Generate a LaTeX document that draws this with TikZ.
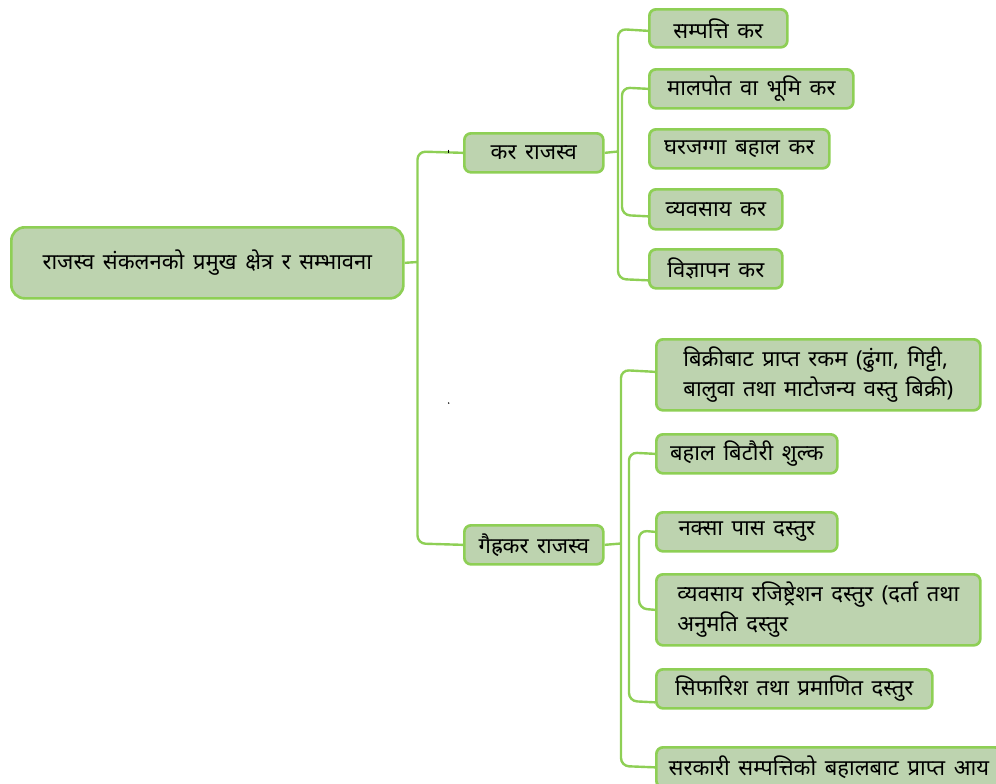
\documentclass[tikz,border=0pt]{standalone}
\usepackage{fontspec}
\newfontfamily\deva[Script=Devanagari,WordSpace=1.5]{Noto Sans}
\usetikzlibrary{calc}
\definecolor{boxfill}{HTML}{BDD3AF}
\definecolor{boxline}{HTML}{8ECF55}
\begin{document}
\begin{tikzpicture}[x=0.75pt,y=-0.75pt,
  box/.style={draw=boxline, fill=boxfill, line width=2pt, rounded corners=5pt, inner sep=0pt, anchor=north west, align=left, font=\deva\fontsize{16.5}{22.5}\selectfont},
  conn/.style={draw=boxline, line width=1.8pt, rounded corners=6pt},
  sz/.style n args={2}{minimum width=#1*0.75pt, minimum height=#2*0.75pt}
]
\useasboundingbox (0,0) rectangle (996,783);
\clip (0,0) rectangle (996,783);

\node[box, sz={392}{71}, rounded corners=10pt] (root) at (10,226) {राजस्व संकलनको प्रमुख क्षेत्र र सम्भावना};
\node[box, sz={139}{39}] (kr) at (463,132) {कर राजस्व};
\node[box, sz={139}{39}] (gk) at (463,524) {गैह्रकर राजस्व};

\node[box, sz={138}{38}] (s1) at (648,8) {सम्पत्ति कर};
\node[box, sz={204}{39}] (s2) at (648,68) {मालपोत वा भूमि कर};
\node[box, sz={180}{39}] (s3) at (648,128) {घरजग्गा बहाल कर};
\node[box, sz={133}{40}] (s4) at (648,188) {व्यवसाय कर};
\node[box, sz={133}{39}] (s5) at (648,248) {विज्ञापन कर};

\node[box, sz={324}{71}] (g1) at (655,338) {बिक्रीबाट प्राप्त रकम (ढुंगा, गिट्टी,\\बालुवा तथा माटोजन्य वस्तु बिक्री)};
\node[box, sz={181}{39}] (g2) at (655,433) {बहाल बिटौरी शुल्क};
\node[box, sz={181}{39}] (g3) at (655,511) {नक्सा पास दस्तुर};
\node[box, sz={324}{71}] (g4) at (655,573) {व्यवसाय रजिष्ट्रेशन दस्तुर (दर्ता तथा\\अनुमति दस्तुर};
\node[box, sz={276}{39}] (g5) at (655,668) {सिफारिश तथा प्रमाणित दस्तुर};
\node[box, sz={345}{40}] (g6) at (655,746) {सरकारी सम्पत्तिको बहालबाट प्राप्त आय};

% level 1
\draw[conn] (root.east) -- (417.5,262);
\draw[conn] (kr.west) -- (417.5,151.5) -- (417.5,543.5) -- (gk.west);

% upper group
\draw[conn] (kr.east) -- (618,151.5);
\draw[conn] ($(s1.west)+(0,2.5)$) -- (618,29) -- (618,279) -- ($(s5.west)+(0,11.5)$);
\draw[conn] (s2.west) -- (622,87.5) -- (622,215) -- ($(s4.west)+(0,7)$);

% lower group
\draw[conn] (gk.east) -- (621,543.5);
\draw[conn] ($(g1.west)+(0,-3)$) -- (621,370) -- (621,766) -- (g6.west);
\draw[conn] (g2.west) -- (629,452.5) -- (629,701) -- ($(g5.west)+(0,13.5)$);
\draw[conn] (g3.west) -- (639,530.5) -- (639,608.5) -- (g4.west);

% tiny marks
\draw[black, line width=0.6pt] (448.7,149.5) -- (448.7,152.5);
\fill[black] (448.7,403) circle (0.8);
\end{tikzpicture}
\end{document}
